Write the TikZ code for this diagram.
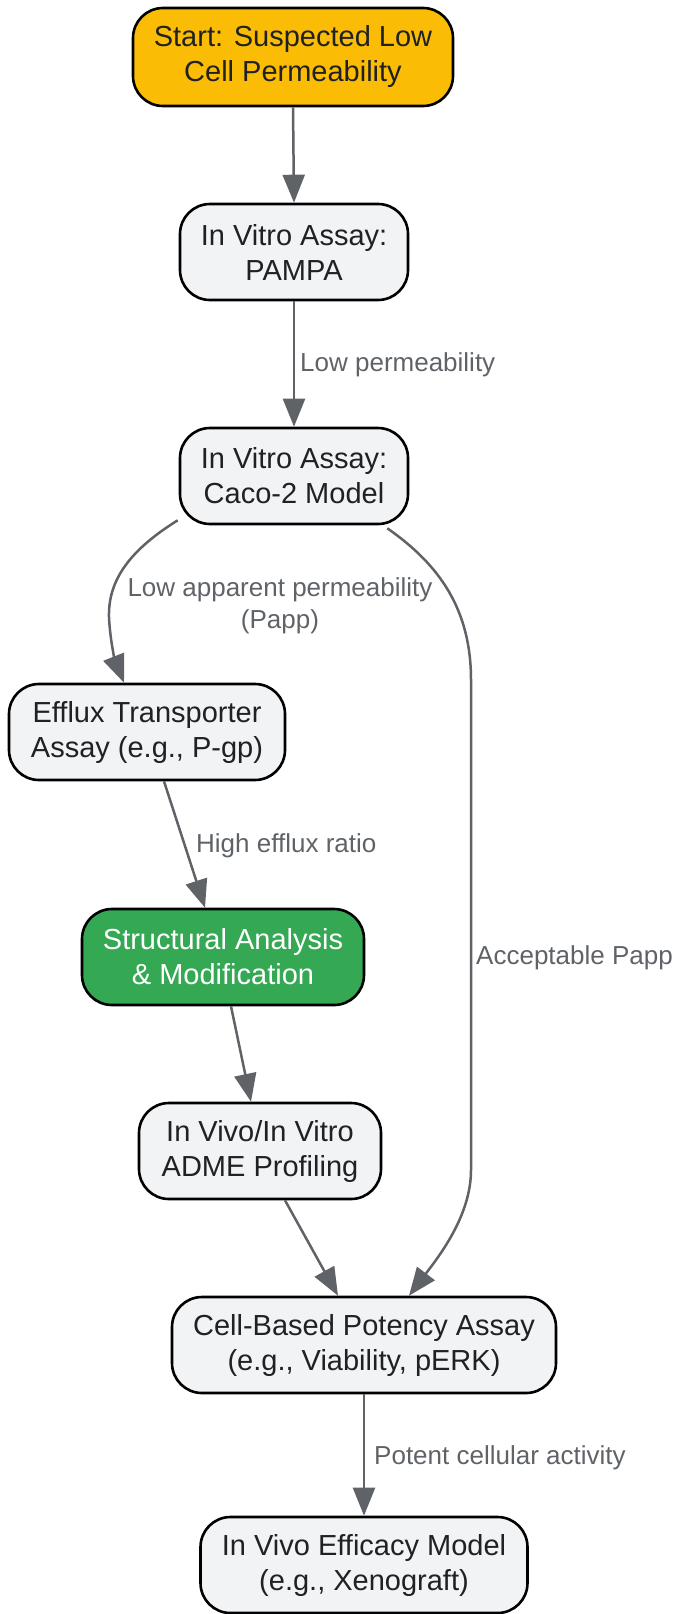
\documentclass[tikz,border=0pt]{standalone}
\usepackage{fontspec}
\setmainfont{Liberation Sans}
\usetikzlibrary{arrows.meta,calc}
\definecolor{nodegrey}{HTML}{F1F3F4}
\definecolor{edgegrey}{HTML}{5F6368}
\definecolor{textdark}{HTML}{202124}
\definecolor{amber}{HTML}{FBBC05}
\definecolor{gogreen}{HTML}{34A853}
\tikzset{
  box/.style={draw=black, line width=2.6pt, rounded corners=30pt, fill=nodegrey,
    text=textdark, font=\fontsize{29}{35}\selectfont, align=center,
    inner sep=0pt, minimum height=96pt},
  conn/.style={draw=edgegrey, line width=2.5pt,
    -{Triangle[length=28pt,width=22pt]}},
  lbl/.style={text=edgegrey, font=\fontsize{26}{32}\selectfont, inner sep=0pt},
}
\begin{document}
\begin{tikzpicture}[x=1pt,y=-1pt]
\useasboundingbox (0,0) rectangle (678,1614);
\node[box, fill=amber, minimum width=320pt, minimum height=98pt] (start) at (293,57) {Start: Suspected Low\\Cell Permeability};
\node[box, minimum width=228pt] (pampa) at (294,252) {In Vitro Assay:\\PAMPA};
\node[box, minimum width=228pt] (caco) at (294,476) {In Vitro Assay:\\Caco-2 Model};
\node[box, minimum width=276pt] (efflux) at (147,732) {Efflux Transporter\\Assay (e.g., P-gp)};
\node[box, fill=gogreen, text=white, minimum width=282pt] (struct) at (223,957) {Structural Analysis\\\& Modification};
\node[box, minimum width=242pt] (adme) at (260,1151) {In Vivo/In Vitro\\ADME Profiling};
\node[box, minimum width=384pt] (cell) at (364,1345) {Cell-Based Potency Assay\\(e.g., Viability, pERK)};
\node[box, minimum width=327pt] (eff) at (364,1565) {In Vivo Efficacy Model\\(e.g., Xenograft)};

\draw[conn] (start.south) -- (pampa.north);
\draw[conn] (pampa.south) -- (caco.north);
\node[lbl, anchor=west] (l1) at (300,365) {Low permeability};

\coordinate (c1) at ($(caco.south west)+(-1,-5)$);
\draw[conn] (c1) .. controls (130,550) and (108,580) .. (109,617)
  .. controls (110,640) and (115,660) .. ([xshift=-23pt]efflux.north);
\node[lbl, align=center] (l2) at (280,606) {Low apparent permeability\\(Papp)};

\coordinate (c2) at ($(caco.south east)+(-22,3)$);
\draw[conn] (c2) .. controls (440,565) and (471,610) .. (471,680)
  -- (471,1170) .. controls (471,1215) and (440,1255) .. ([xshift=45pt]cell.north);
\node[lbl, anchor=west] (l3) at (476,958) {Acceptable Papp};

\draw[conn] ([xshift=17pt]efflux.south) -- ([xshift=-18pt]struct.north);
\node[lbl, anchor=west] (l4) at (196,846) {High efflux ratio};

\draw[conn] ([xshift=8pt]struct.south) -- ([xshift=-9pt]adme.north);
\draw[conn] ([xshift=25pt]adme.south) -- ([xshift=-26pt]cell.north);

\draw[conn] (cell.south) -- (eff.north);
\node[lbl, anchor=west] (l5) at (374,1458) {Potent cellular activity};
\end{tikzpicture}
\end{document}
